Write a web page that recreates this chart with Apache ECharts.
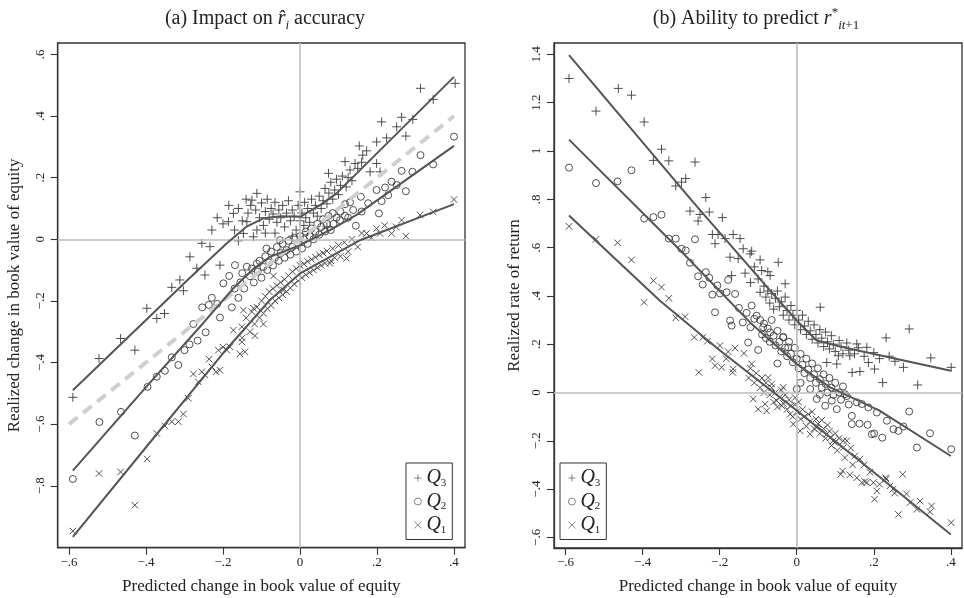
<!DOCTYPE html>
<html><head><meta charset="utf-8">
<script src="https://cdn.jsdelivr.net/npm/echarts@6/dist/echarts.min.js"></script>
<style>html,body{margin:0;padding:0;background:#fff}#c{width:964px;height:598px}</style>
</head><body><div id="c"></div>
<script>
// ---------- data ----------
const seriesNames = ['Q3', 'Q2', 'Q1'];
const xTicks = [-0.6, -0.4, -0.2, 0, 0.2, 0.4];
const leftYTicks = [-0.8, -0.6, -0.4, -0.2, 0, 0.2, 0.4, 0.6];
const rightYTicks = [-0.6, -0.4, -0.2, 0, 0.2, 0.4, 0.6, 0.8, 1, 1.2, 1.4];

// panel (a)
const leftQ3 = [
[0.403,0.506],[0.313,0.490],[0.346,0.454],[0.264,0.396],[0.212,0.381],[0.293,0.389],[0.251,0.365],[0.275,0.335],[0.225,0.329],[0.199,0.316],[0.154,0.303],[0.173,0.287],[0.163,0.273],[0.117,0.252],[0.143,0.246],[0.199,0.246],[0.182,0.219],[0.208,0.219],[0.130,0.225],[0.074,0.214],
[-0.112,0.149],[-0.125,0.127],[-0.173,0.084],[-0.186,0.057],[-0.229,0.030],[-0.255,-0.013],[-0.234,-0.024],[-0.286,-0.057],[-0.208,-0.084],[-0.268,-0.094],[-0.247,-0.116],[-0.312,-0.132],[-0.333,-0.156],[-0.303,-0.167],[0,0.154],[-0.138,0.057],[-0.112,0.030],[-0.121,0.008],[-0.147,0.019],
[-0.398,-0.224],[-0.372,-0.257],[-0.352,-0.241],[-0.466,-0.322],[-0.429,-0.360],[-0.522,-0.387],[-0.590,-0.513],
[-0.160,0.100],[-0.150,0.060],[-0.135,0.085],[-0.128,0.110],[-0.115,0.095],[-0.105,0.070],[-0.100,0.118],[-0.095,0.045],[-0.090,0.090],[-0.085,0.130],[-0.080,0.065],[-0.075,0.100],[-0.070,0.082],[-0.065,0.120],[-0.060,0.055],[-0.055,0.095],[-0.050,0.070],[-0.045,0.110],[-0.040,0.040],[-0.035,0.085],[-0.030,0.125],[-0.025,0.060],[-0.020,0.095],[-0.015,0.075],[-0.010,0.030],[-0.005,0.110],[0.000,0.060],[0.005,0.085],[0.010,0.045],[0.012,0.120],[0.015,0.070],[0.020,0.100],[0.025,0.055],[0.030,0.130],[0.035,0.085],[0.040,0.110],[0.045,0.075],[0.050,0.140],[0.055,0.100],[0.060,0.125],[0.065,0.165],[0.070,0.115],[0.075,0.150],[0.080,0.185],[0.085,0.130],[0.090,0.160],[0.095,0.195],[0.100,0.145],[0.105,0.175],[0.110,0.205],[0.120,0.170],[0.125,0.200],[0.135,0.190],[0.150,0.230],[0.160,0.250],[-0.065,0.020],[-0.020,0.010],[0.020,0.025],[-0.185,0.110],[-0.200,0.050],[-0.215,0.070],[-0.170,0.030],[-0.160,-0.005],[-0.140,0.130],[-0.090,0.020],[0.070,0.040]
];
const leftQ2 = [
[0.400,0.333],[0.346,0.243],[0.313,0.273],[0.292,0.219],[0.264,0.222],[0.275,0.156],[0.238,0.187],[0.251,0.176],[0.221,0.168],[0.199,0.160],[0.212,0.124],[0.229,0.143],[0.205,0.084],[0.158,0.138],[0.177,0.117],[0.117,0.114],[0.138,0.095],[0.160,0.090],[0.145,0.044],[0.104,0.062],[0.117,0.076],[0.074,0.076],[0.087,0.050],
[-0.169,-0.084],[-0.138,-0.089],[-0.184,-0.119],[-0.199,-0.143],[-0.229,-0.190],[-0.112,-0.079],[-0.087,-0.030],[-0.052,-0.003],
[-0.254,-0.221],[-0.237,-0.213],[-0.215,-0.210],[-0.208,-0.254],[-0.177,-0.221],[-0.277,-0.275],[-0.245,-0.302],[-0.266,-0.329],[-0.287,-0.341],[-0.300,-0.360],[-0.333,-0.383],[-0.316,-0.408],[-0.351,-0.427],[-0.372,-0.446],[-0.396,-0.479],[-0.465,-0.560],[-0.521,-0.593],[-0.429,-0.637],[-0.590,-0.778],
[-0.155,-0.140],[-0.150,-0.110],[-0.145,-0.160],[-0.130,-0.120],[-0.125,-0.095],[-0.120,-0.140],[-0.110,-0.105],[-0.105,-0.070],[-0.100,-0.125],[-0.095,-0.090],[-0.090,-0.055],[-0.085,-0.100],[-0.080,-0.075],[-0.075,-0.040],[-0.070,-0.085],[-0.065,-0.060],[-0.060,-0.025],[-0.055,-0.070],[-0.050,-0.045],[-0.045,-0.015],[-0.040,-0.060],[-0.035,-0.035],[-0.030,-0.005],[-0.025,-0.050],[-0.020,-0.025],[-0.015,0.005],[-0.010,-0.040],[-0.005,-0.015],[0.000,0.010],[0.005,-0.030],[0.010,0.000],[0.015,0.025],[0.020,-0.015],[0.025,0.010],[0.030,0.035],[0.035,0.000],[0.040,0.025],[0.045,0.050],[0.050,0.015],[0.055,0.040],[0.060,0.065],[0.065,0.025],[0.070,0.050],[0.080,0.030],[0.085,0.085],[0.095,0.070],[0.105,0.090],[0.125,0.070],[0.130,0.120],[-0.170,-0.160],[-0.160,-0.190]
];
const leftQ1 = [
[0.400,0.129],[0.346,0.089],[0.312,0.079],[0.275,0.010],[0.264,0.062],[0.238,0.019],[0.208,0.019],[0.199,0.035],[0.173,0.019],[0.121,-0.062],[0.078,-0.078],[-0.069,-0.119],[-0.043,-0.165],
[-0.147,-0.230],[-0.121,-0.224],[-0.095,-0.275],[-0.117,-0.313],[-0.151,-0.284],[-0.173,-0.295],[-0.151,-0.333],[-0.143,-0.365],[-0.156,-0.372],[-0.182,-0.349],[-0.190,-0.360],[-0.212,-0.360],[-0.200,-0.350],[-0.236,-0.389],[-0.229,-0.414],[-0.218,-0.430],[-0.208,-0.425],[-0.255,-0.430],[-0.247,-0.440],[-0.277,-0.437],[-0.264,-0.463],[-0.290,-0.516],[-0.303,-0.567],[-0.316,-0.592],[-0.333,-0.592],[-0.351,-0.606],[-0.372,-0.630],[-0.397,-0.713],[-0.466,-0.755],[-0.522,-0.760],[-0.429,-0.863],[-0.590,-0.947],
[-0.130,-0.300],[-0.125,-0.235],[-0.118,-0.275],[-0.112,-0.220],[-0.105,-0.255],[-0.100,-0.200],[-0.095,-0.240],[-0.090,-0.185],[-0.085,-0.225],[-0.080,-0.170],[-0.075,-0.215],[-0.070,-0.160],[-0.065,-0.200],[-0.060,-0.150],[-0.055,-0.190],[-0.050,-0.140],[-0.045,-0.180],[-0.040,-0.130],[-0.035,-0.170],[-0.030,-0.118],[-0.025,-0.158],[-0.020,-0.105],[-0.015,-0.145],[-0.010,-0.095],[-0.005,-0.135],[0.000,-0.085],[0.005,-0.125],[0.010,-0.080],[0.015,-0.115],[0.020,-0.072],[0.025,-0.108],[0.030,-0.065],[0.035,-0.100],[0.040,-0.058],[0.045,-0.092],[0.050,-0.050],[0.055,-0.085],[0.060,-0.045],[0.065,-0.078],[0.070,-0.038],[0.080,-0.070],[0.085,-0.030],[0.090,-0.060],[0.100,-0.020],[0.105,-0.055],[0.115,-0.010],[0.125,-0.040],[0.135,0.000],[0.150,-0.025],[0.160,0.020],[0.185,0.005],[0.220,0.045],[0.250,0.040],[-0.140,-0.255],[-0.150,-0.320]
];
const leftFitQ3 = [[-0.59,-0.49],[-0.40,-0.262],[-0.29,-0.13],[-0.19,-0.013],[-0.14,0.040],[-0.095,0.068],[-0.05,0.075],[0,0.073],[0.052,0.111],[0.095,0.149],[0.40,0.527]];
const leftFitQ2 = [[-0.59,-0.751],[-0.40,-0.48],[-0.25,-0.27],[-0.17,-0.155],[-0.12,-0.095],[-0.078,-0.057],[0,-0.019],[0.078,0.030],[0.147,0.079],[0.40,0.303]];
const leftFitQ1 = [[-0.59,-0.966],[-0.40,-0.675],[-0.20,-0.37],[-0.078,-0.197],[0,-0.111],[0.078,-0.057],[0.156,-0.003],[0.40,0.114]];
const leftDiagonal = [[-0.6,-0.6],[0.4,0.4]];

// panel (b)
const rightQ3 = [
[-0.591,1.300],[-0.521,1.165],[-0.463,1.259],[-0.429,1.231],[-0.396,1.120],[-0.351,1.007],[-0.372,0.961],[-0.332,0.959],[-0.264,0.954],[-0.314,0.855],[-0.299,0.871],[-0.288,0.886],[-0.236,0.807],[-0.277,0.751],[-0.251,0.737],[-0.227,0.747],[-0.256,0.710],[-0.193,0.724],[-0.219,0.654],[-0.204,0.654],[-0.212,0.616],[-0.186,0.637],[-0.165,0.654],[-0.147,0.637],[-0.173,0.560],[-0.152,0.554],[-0.139,0.595],[-0.117,0.585],[-0.095,0.549],[-0.134,0.494],[-0.169,0.484],[-0.048,0.539],[-0.030,0.450],[-0.121,0.574],[-0.091,0.505],[-0.069,0.484],[-0.095,0.415],[0.061,0.353],
[0.292,0.263],[0.232,0.226],[0.348,0.143],[0.401,0.104],[0.277,0.104],[0.255,0.129],[0.202,0.097],[0.223,0.041],[0.314,0.031],[0.144,0.083],[0.164,0.087],[0.186,0.124],[0.138,0.152],[0.182,0.187],[0.156,0.201],[0.104,0.118],[0.078,0.124],[0.108,0.152],
[-0.085,0.440],[-0.080,0.395],[-0.075,0.420],[-0.070,0.370],[-0.065,0.410],[-0.060,0.345],[-0.055,0.390],[-0.050,0.420],[-0.045,0.355],[-0.040,0.375],[-0.035,0.320],[-0.030,0.395],[-0.025,0.340],[-0.020,0.300],[-0.015,0.360],[-0.010,0.320],[-0.005,0.280],[0.000,0.340],[0.005,0.300],[0.010,0.260],[0.015,0.320],[0.020,0.275],[0.025,0.240],[0.030,0.295],[0.035,0.255],[0.040,0.220],[0.045,0.280],[0.050,0.240],[0.055,0.205],[0.060,0.260],[0.065,0.225],[0.070,0.190],[0.075,0.250],[0.080,0.210],[0.085,0.180],[0.090,0.235],[0.095,0.200],[0.100,0.170],[0.110,0.215],[0.115,0.190],[0.120,0.160],[0.130,0.205],[0.135,0.175],[0.150,0.160],[0.160,0.185],[0.175,0.150],[0.200,0.165],[0.215,0.140],[0.240,0.150],[-0.100,0.470],[-0.110,0.520],[-0.120,0.455],[-0.075,0.500]
];
const rightQ2 = [
[-0.591,0.931],[-0.521,0.867],[-0.465,0.874],[-0.429,0.920],[-0.396,0.720],[-0.372,0.726],[-0.351,0.736],[-0.332,0.637],[-0.314,0.637],[-0.264,0.634],[-0.299,0.595],[-0.288,0.588],[-0.277,0.537],[-0.256,0.481],[-0.236,0.498],[-0.227,0.475],[-0.244,0.447],[-0.206,0.443],[-0.178,0.466],[-0.219,0.405],[-0.199,0.410],[-0.182,0.415],[-0.160,0.408],[-0.212,0.332],[-0.173,0.298],[-0.169,0.277],[-0.126,0.207],[-0.117,0.360],[-0.104,0.318],[-0.087,0.270],[-0.069,0.249],[-0.035,0.228],[-0.022,0.187],[-0.100,0.176],[0.000,0.014],[0.035,0.014],[0.052,-0.027],[0.074,-0.055],[0.091,-0.034],[0.104,-0.069],[0.125,-0.007],[0.156,-0.041],[0.169,-0.048],[0.186,-0.062],[0.208,-0.083],[0.143,-0.131],[0.163,-0.129],[0.143,-0.097],[0.184,-0.134],[0.195,-0.173],[0.201,-0.170],[0.222,-0.187],[0.234,-0.117],[0.251,-0.152],[0.264,-0.159],[0.277,-0.141],[0.292,-0.079],[0.312,-0.228],[0.346,-0.169],[0.401,-0.235],
[-0.095,0.300],[-0.090,0.240],[-0.085,0.285],[-0.080,0.225],[-0.075,0.265],[-0.070,0.210],[-0.065,0.300],[-0.060,0.235],[-0.055,0.195],[-0.050,0.255],[-0.045,0.210],[-0.040,0.170],[-0.035,0.230],[-0.030,0.185],[-0.025,0.150],[-0.020,0.210],[-0.015,0.160],[-0.010,0.125],[-0.005,0.185],[0.000,0.140],[0.005,0.100],[0.010,0.160],[0.015,0.115],[0.020,0.080],[0.025,0.140],[0.030,0.095],[0.035,0.060],[0.040,0.120],[0.045,0.075],[0.050,0.040],[0.055,0.100],[0.060,0.055],[0.065,0.020],[0.070,0.075],[0.075,0.035],[0.080,0.000],[0.085,0.060],[0.090,0.020],[0.095,-0.010],[0.100,0.040],[0.110,0.000],[0.115,-0.030],[0.120,0.025],[0.130,-0.015],[0.135,-0.050],[-0.130,0.330],[-0.140,0.290],[-0.150,0.350],[-0.120,0.270],[-0.110,0.305],[-0.050,0.120],[0.010,0.040],[0.060,-0.010]
];
const rightQ1 = [
[-0.591,0.688],[-0.521,0.634],[-0.465,0.620],[-0.429,0.549],[-0.372,0.463],[-0.351,0.436],[-0.332,0.390],[-0.396,0.373],[-0.314,0.309],[-0.290,0.314],[-0.266,0.228],[-0.244,0.228],[-0.232,0.212],[-0.254,0.083],[-0.219,0.139],[-0.212,0.111],[-0.195,0.104],[-0.199,0.194],[-0.178,0.169],[-0.160,0.184],[-0.137,0.162],[-0.183,0.140],[-0.166,0.083],[-0.165,0.097],[-0.117,0.118],[-0.074,0.062],[-0.065,0.035],[-0.035,0.021],[-0.113,-0.027],[-0.100,-0.069],[-0.078,-0.076],[-0.039,-0.055],[-0.004,-0.021],[-0.082,-0.048],[-0.052,-0.034],[-0.017,-0.090],[-0.009,-0.131],[0.009,-0.159],[0.035,-0.173],[0.052,-0.145],[0.078,-0.173],[0.095,-0.200],[0.121,-0.200],[0.087,-0.187],[0.099,-0.207],[0.130,-0.200],[0.121,-0.228],[0.151,-0.263],[0.164,-0.276],[0.119,-0.325],[0.138,-0.341],[0.156,-0.353],[0.177,-0.369],[0.199,-0.373],[0.208,-0.408],[0.202,-0.442],[0.231,-0.353],[0.242,-0.387],[0.275,-0.339],[0.232,-0.359],[0.254,-0.417],[0.264,-0.505],[0.294,-0.456],[0.312,-0.484],[0.346,-0.494],[0.401,-0.539],[0.125,-0.270],[0.169,-0.373],[0.182,-0.373],[0.114,-0.339],
[-0.125,0.060],[-0.120,0.100],[-0.110,0.040],[-0.105,0.080],[-0.095,0.020],[-0.090,0.060],[-0.085,0.000],[-0.080,0.040],[-0.070,-0.010],[-0.065,0.020],[-0.060,-0.040],[-0.055,0.000],[-0.050,-0.060],[-0.045,-0.020],[-0.040,0.010],[-0.035,-0.045],[-0.030,-0.010],[-0.025,-0.070],[-0.020,-0.030],[-0.015,-0.055],[-0.010,-0.100],[-0.005,-0.050],[0.000,-0.080],[0.005,-0.040],[0.010,-0.110],[0.015,-0.070],[0.020,-0.100],[0.025,-0.140],[0.030,-0.090],[0.035,-0.120],[0.040,-0.080],[0.045,-0.150],[0.050,-0.110],[0.055,-0.130],[0.060,-0.170],[0.065,-0.115],[0.070,-0.150],[0.075,-0.190],[0.080,-0.135],[0.085,-0.160],[0.090,-0.220],[0.100,-0.170],[0.105,-0.240],[0.110,-0.190],[0.140,-0.230],[0.145,-0.300],[0.175,-0.300],[0.190,-0.330],[0.215,-0.380],[0.250,-0.400],[0.285,-0.420],[0.320,-0.450],[0.350,-0.470]
];
const rightFitQ3 = [[-0.591,1.397],[-0.27,0.79],[-0.069,0.422],[0,0.298],[0.052,0.215],[0.121,0.187],[0.242,0.145],[0.40,0.090]];
const rightFitQ2 = [[-0.591,1.047],[-0.30,0.585],[-0.121,0.290],[0,0.118],[0.087,0.021],[0.216,-0.076],[0.40,-0.263]];
const rightFitQ1 = [[-0.591,0.733],[-0.355,0.380],[-0.20,0.175],[0,-0.075],[0.20,-0.330],[0.40,-0.588]];

// ---------- styling ----------
const FONT = 'Liberation Serif';
const INK = '#222';
const MARK = '#3c3c3c';
const PLUS = 'path://M5,0L5,10M0,5L10,5';
const CROSS = 'path://M0,0L10,10M0,10L10,0';
const symbols = { Q3: PLUS, Q2: 'circle', Q1: CROSS };
const sizes = { Q3: 9, Q2: 7, Q1: 6.5 };

function fmt(v) {
  if (Math.abs(v) < 1e-9) return '0';
  let s = String(Math.round(v * 10) / 10);
  s = s.replace(/^(-?)0\./, '$1.');
  return s.replace('-', '\u2212');
}

function scatter(name, data, gi) {
  return {
    type: 'scatter', name: name, xAxisIndex: gi, yAxisIndex: gi, data: data,
    symbol: symbols[name], symbolSize: sizes[name], z: 3,
    itemStyle: { color: 'rgba(0,0,0,0)', borderColor: MARK, borderWidth: 0.9, opacity: 1 },
    emphasis: { disabled: true }
  };
}
function fit(data, gi) {
  return {
    type: 'line', name: 'fit', xAxisIndex: gi, yAxisIndex: gi, data: data,
    showSymbol: false, symbol: 'none', smooth: false, z: 5,
    lineStyle: { color: '#555', width: 2 }, emphasis: { disabled: true }
  };
}
function zeroLines(gi) {
  return {
    type: 'line', name: 'zero', xAxisIndex: gi, yAxisIndex: gi, data: [], z: 1,
    markLine: { silent: true, symbol: 'none', label: { show: false },
      lineStyle: { color: '#bdbdbd', type: 'solid', width: 1.6 },
      data: [{ xAxis: 0 }, { yAxis: 0 }] }
  };
}
function xAxis(gi, min, max) {
  return {
    type: 'value', gridIndex: gi, min: min, max: max,
    axisLine: { show: true, onZero: false, lineStyle: { color: '#333', width: 1.3 } },
    axisTick: { show: true, length: 7, customValues: xTicks, lineStyle: { color: '#333', width: 1.1 } },
    axisLabel: { customValues: xTicks, formatter: fmt, fontFamily: FONT, fontSize: 13, color: INK, margin: 8 },
    splitLine: { show: false },
    name: 'Predicted change in book value of equity', nameLocation: 'middle', nameGap: 30,
    nameTextStyle: { fontFamily: FONT, fontSize: 17, color: INK }
  };
}
function yAxis(gi, min, max, ticks, name, gap) {
  return {
    type: 'value', gridIndex: gi, min: min, max: max,
    axisLine: { show: true, onZero: false, lineStyle: { color: '#333', width: 1.3 } },
    axisTick: { show: true, length: 7, customValues: ticks, lineStyle: { color: '#333', width: 1.1 } },
    axisLabel: { customValues: ticks, formatter: fmt, rotate: 90, fontFamily: FONT, fontSize: 13, color: INK, margin: 11 },
    splitLine: { show: false },
    name: name, nameLocation: 'middle', nameRotate: 90, nameGap: gap,
    nameTextStyle: { fontFamily: FONT, fontSize: 17, color: INK }
  };
}
function legend(left) {
  return {
    left: left, top: 463, orient: 'vertical', data: seriesNames,
    itemWidth: 7, itemHeight: 7, itemGap: 3, itemTextGap: 11,
    padding: [5, 6, 4, 8], borderColor: '#333', borderWidth: 1,
    selectedMode: false,
    itemStyle: { color: 'rgba(0,0,0,0)', borderColor: '#666', borderWidth: 0.8 },
    formatter: function (n) { return '{q|Q}{s|' + n.slice(1) + '}'; },
    textStyle: { fontFamily: FONT, color: INK, rich: {
      q: { fontFamily: FONT, fontStyle: 'italic', fontSize: 20, lineHeight: 21, color: INK },
      s: { fontFamily: FONT, fontSize: 11, lineHeight: 11, verticalAlign: 'bottom', color: INK }
    } }
  };
}
const titleRich = {
  i: { fontFamily: FONT, fontStyle: 'italic', fontSize: 20, lineHeight: 26, color: INK },
  sub: { fontFamily: FONT, fontStyle: 'italic', fontSize: 13, lineHeight: 13, verticalAlign: 'bottom', color: INK },
  sub1: { fontFamily: FONT, fontSize: 13, lineHeight: 13, verticalAlign: 'bottom', color: INK },
  sup: { fontFamily: FONT, fontSize: 13, lineHeight: 13, verticalAlign: 'top', color: INK }
};

const chart = echarts.init(document.getElementById('c'), null, { renderer: 'canvas' });
chart.setOption({
  animation: false,
  backgroundColor: '#fff',
  title: [
    { text: '(a) Impact on {i|r\u0302}{sub|i} accuracy', left: 260, top: 1, textAlign: 'center',
      textStyle: { fontFamily: FONT, fontSize: 20, fontWeight: 'normal', color: INK, lineHeight: 26, rich: titleRich } },
    { text: '(b) Ability to predict {i|r}{sup|*}{sub|it}{sub1|+1}', left: 751, top: 1, textAlign: 'center',
      textStyle: { fontFamily: FONT, fontSize: 20, fontWeight: 'normal', color: INK, lineHeight: 26, rich: titleRich } }
  ],
  legend: [legend(406), legend(560)],
  grid: [
    { left: 57.7, top: 43, width: 407.3, height: 504.7, show: true, borderColor: '#333', borderWidth: 1.3, containLabel: false, outerBoundsMode: 'none' },
    { left: 554, top: 43, width: 408, height: 505, show: true, borderColor: '#333', borderWidth: 1.3, containLabel: false, outerBoundsMode: 'none' }
  ],
  xAxis: [xAxis(0, -0.6294, 0.4286), xAxis(1, -0.630, 0.429)],
  yAxis: [
    yAxis(0, -1.001, 0.637, leftYTicks, 'Realized change in book value of equity', 35),
    yAxis(1, -0.644, 1.447, rightYTicks, 'Realized rate of return', 31)
  ],
  series: [
    zeroLines(0), zeroLines(1),
    scatter('Q3', leftQ3, 0), scatter('Q2', leftQ2, 0), scatter('Q1', leftQ1, 0),
    { type: 'line', name: 'diag', xAxisIndex: 0, yAxisIndex: 0, data: leftDiagonal, showSymbol: false, symbol: 'none', z: 4,
      lineStyle: { color: '#cfcfcf', width: 4, type: [11, 7] } },
    fit(leftFitQ3, 0), fit(leftFitQ2, 0), fit(leftFitQ1, 0),
    scatter('Q3', rightQ3, 1), scatter('Q2', rightQ2, 1), scatter('Q1', rightQ1, 1),
    fit(rightFitQ3, 1), fit(rightFitQ2, 1), fit(rightFitQ1, 1)
  ]
});
</script>
</body></html>
